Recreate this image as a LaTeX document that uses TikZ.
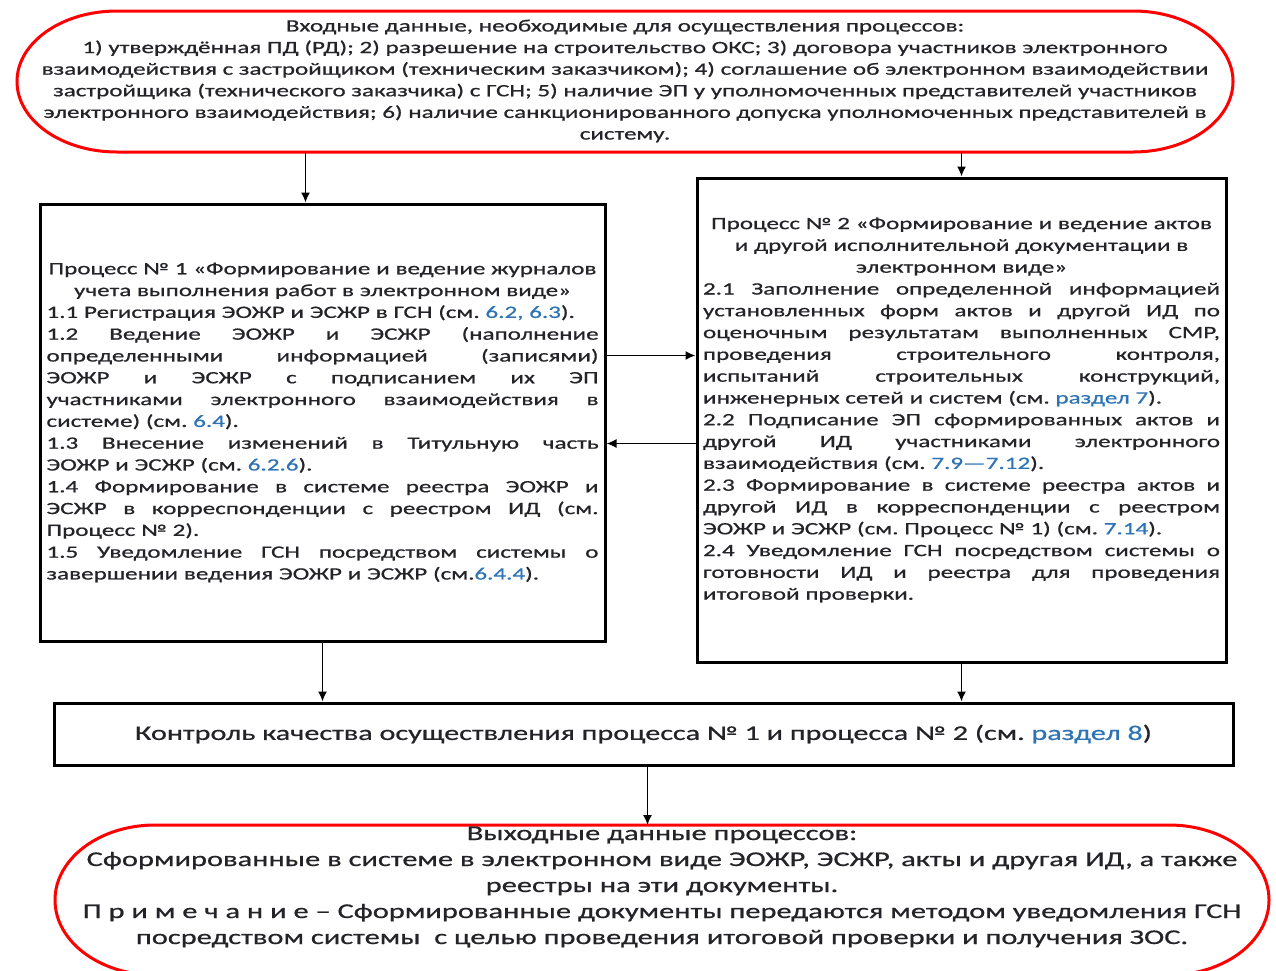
\documentclass[tikz,border=0pt]{standalone}
\usepackage{fontspec}
\setmainfont[FakeStretch=1.45, FakeBold=0.7]{Carlito}
\usetikzlibrary{positioning, arrows.meta}
\usetikzlibrary{calc}
\setlength{\parindent}{0pt}
\frenchspacing
\definecolor{linkblue}{RGB}{46,116,181}
\definecolor{inktext}{RGB}{35,35,40}
\newcommand{\lnk}[1]{\textcolor{linkblue}{#1}}
\newcommand{\jl}[1]{\makebox[\hsize][s]{\spaceskip=0.3em plus 20em\xspaceskip=0pt #1}}
\newcommand{\cl}[1]{\makebox[\hsize][c]{#1}}
\newcommand{\stadium}[2]{% outline between two corner coordinates
  \draw[dataline] let \p1=(#1), \p2=(#2), \n1={(\y1-\y2)/2} in
    (\x1+100pt,\y1) -- (\x2-100pt,\y1)
    arc[start angle=90, end angle=-90, x radius=100pt, y radius=\n1]
    -- (\x1+100pt,\y2)
    arc[start angle=270, end angle=90, x radius=100pt, y radius=\n1] -- cycle;}
\tikzset{
>={Latex[length=10pt, width=9pt]}, % filled triangular heads
flow/.style={->, line width=1.6pt}, % connectors between blocks
dataline/.style={draw=red, line width=3pt}, % input and output outlines
procbox/.style={draw, line width=3pt, inner sep=0pt, text=inktext, align=left}, % process blocks
every node/.style={text=inktext},
}

\begin{document}
\begin{tikzpicture}[x=1pt, y=1pt]
    \useasboundingbox (0,0) rectangle (1276,-970);
    % input data
    \coordinate (inNW) at (17,-11);
    \coordinate (inSE) at (1233,-152);
    \stadium{inNW}{inSE}
    \node[align=center, font=\fontsize{17.3}{21.6}\selectfont] (inbox) at (625,-81)
      {Входные данные, необходимые для осуществления процессов:\\
       1) утверждённая ПД (РД); 2) разрешение на строительство ОКС; 3) договора участников электронного\\
       взаимодействия с застройщиком (техническим заказчиком); 4) соглашение об электронном взаимодействии\\
       застройщика (технического заказчика) с ГСН; 5) наличие ЭП у уполномоченных представителей участников\\
       электронного взаимодействия; 6) наличие санкционированного допуска уполномоченных представителей в\\
       систему.};
    % process 1
    \node[procbox, minimum width=565, minimum height=437, text width=552,
          font=\fontsize{17.3}{21.8}\selectfont] (proc1) at (322.5,-422.5)
      {\cl{Процесс № 1 «Формирование и ведение журналов}\\
       \cl{учета выполнения работ в электронном виде»}\\
       1.1 Регистрация ЭОЖР и ЭСЖР в ГСН (см. \lnk{6.2, 6.3}).\\
       \jl{1.2 Ведение ЭОЖР и ЭСЖР (наполнение}\\
       \jl{определенными информацией (записями)}\\
       \jl{ЭОЖР и ЭСЖР с подписанием их ЭП}\\
       \jl{участниками электронного взаимодействия в}\\
       системе) (см. \lnk{6.4}).\\
       \jl{1.3 Внесение изменений в Титульную часть}\\
       ЭОЖР и ЭСЖР (см. \lnk{6.2.6}).\\
       \jl{1.4 Формирование в системе реестра ЭОЖР и}\\
       \jl{ЭСЖР в корреспонденции с реестром ИД (см.}\\
       Процесс № 2).\\
       \jl{1.5 Уведомление ГСН посредством системы о}\\
       завершении ведения ЭОЖР и ЭСЖР (см.\lnk{6.4.4}).};
    % process 2
    \node[procbox, minimum width=529, minimum height=484, text width=517,
          font=\fontsize{17.3}{21.8}\selectfont] (proc2) at (961.5,-420)
      {\cl{Процесс № 2 «Формирование и ведение актов}\\
       \cl{и другой исполнительной документации в}\\
       \cl{электронном виде»}\\
       \jl{2.1 Заполнение определенной информацией}\\
       \jl{установленных форм актов и другой ИД по}\\
       \jl{оценочным результатам выполненных СМР,}\\
       \jl{проведения строительного контроля,}\\
       \jl{испытаний строительных конструкций,}\\
       инженерных сетей и систем (см. \lnk{раздел 7}).\\
       \jl{2.2 Подписание ЭП сформированных актов и}\\
       \jl{другой ИД участниками электронного}\\
       взаимодействия (см. \lnk{7.9—7.12}).\\
       \jl{2.3 Формирование в системе реестра актов и}\\
       \jl{другой ИД в корреспонденции с реестром}\\
       ЭОЖР и ЭСЖР (см. Процесс № 1) (см. \lnk{7.14}).\\
       \jl{2.4 Уведомление ГСН посредством системы о}\\
       \jl{готовности ИД и реестра для проведения}\\
       итоговой проверки.\par\vspace{20pt}};
    % quality control
    \node[procbox, minimum width=1179, minimum height=62, align=center,
          font=\fontsize{20.8}{24}\selectfont] (qc) at (643.5,-734)
      {Контроль качества осуществления процесса № 1 и процесса № 2 (см. \lnk{раздел 8})};
    % output data
    \coordinate (outNW) at (55,-825);
    \coordinate (outSE) at (1269,-975);
    \stadium{outNW}{outSE}
    \node[align=center, font=\fontsize{21}{26}\selectfont] (outbox) at (662,-887)
      {Выходные данные процессов:\\
       Сформированные в системе в электронном виде ЭОЖР, ЭСЖР, акты и другая ИД, а также\\
       реестры на эти документы.\\
       П р и м е ч а н и е – Сформированные документы передаются методом уведомления ГСН\\
       посредством системы\ \ с целью проведения итоговой проверки и получения ЗОС.};
    % connectors
    \draw[flow] ([xshift=-17]proc1.north |- inSE) -- ([xshift=-17]proc1.north);
    \draw[flow] (proc2.north |- inSE) -- (proc2.north);
    \draw[flow] ([yshift=67]proc1.east) -- ([yshift=67]proc1.east -| proc2.west);
    \draw[flow] ([yshift=-21]proc1.east -| proc2.west) -- ([yshift=-21]proc1.east);
    \draw[flow] (proc1.south) -- (proc1.south |- qc.north);
    \draw[flow] (proc2.south) -- (proc2.south |- qc.north);
    \draw[flow] ([xshift=4]qc.south) -- ([xshift=4]qc.south |- outNW);
\end{tikzpicture}
\end{document}
